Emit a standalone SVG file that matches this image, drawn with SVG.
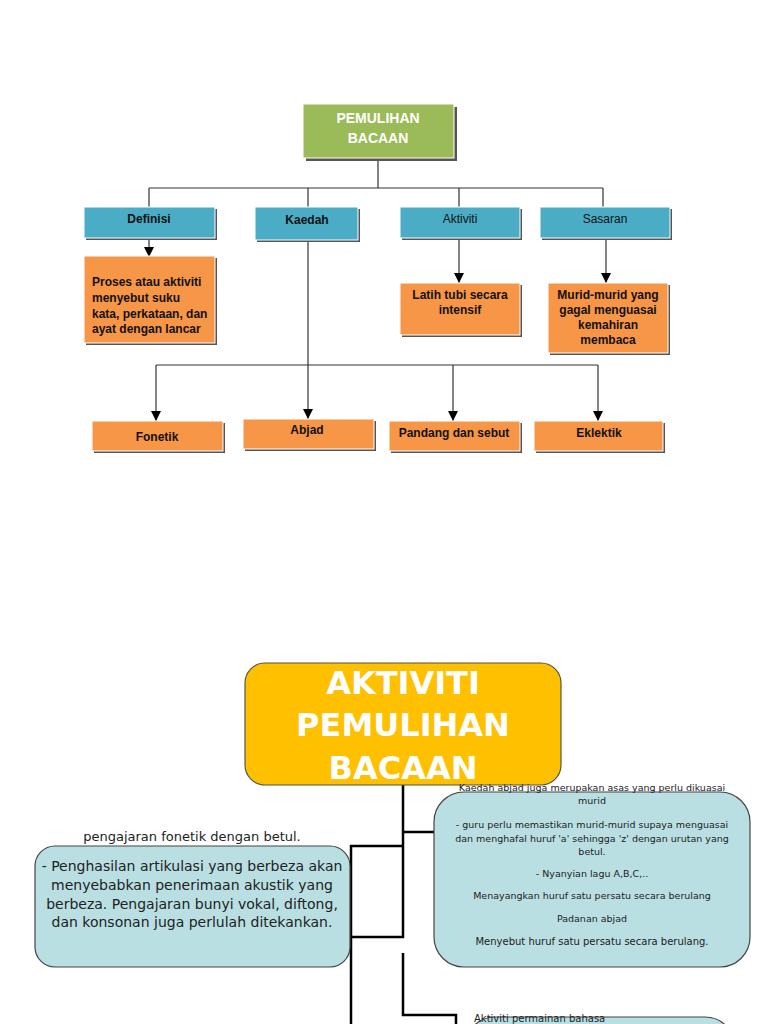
<svg xmlns="http://www.w3.org/2000/svg" width="768" height="1024" viewBox="0 0 768 1024">
<defs>
<marker id="arr" viewBox="0 0 10 10" refX="10" refY="5" markerWidth="10" markerHeight="10" markerUnits="userSpaceOnUse" orient="auto">
<path d="M0,0 L10,5 L0,10 Z" fill="#000"/>
</marker>
</defs>
<style>
.sh{fill:#555;}
.green{fill:#9bbb59;stroke:#fff;stroke-width:1;}
.blue{fill:#4bacc6;stroke:#fff;stroke-width:1;}
.orange{fill:#f79646;stroke:#fff;stroke-width:1;}
.t{font-family:"Liberation Sans",Arial,sans-serif;font-size:12px;text-anchor:middle;fill:#111;}
.tb{font-weight:bold;}
.tw{fill:#fff;font-size:14px;font-weight:bold;}
.c1{fill:none;stroke:#333;stroke-width:1.2;}
.c2{fill:none;stroke:#000;stroke-width:2.5;}
.aqua{fill:#b9dfe3;stroke:#444;stroke-width:1.2;}
.gold{fill:#ffc000;stroke:#554;stroke-width:1.2;}
.d{font-family:"DejaVu Sans",sans-serif;text-anchor:middle;fill:#222;}
.big{font-family:"DejaVu Sans",sans-serif;font-weight:bold;font-size:32px;text-anchor:middle;fill:#fff;}
.st{text-anchor:start;}
</style>
<rect width="768" height="1024" fill="#fff"/>

<g id="connectors">
<path class="c1" d="M378,158 V188 M149,188 H603 M149,188 V207 M308,188 V207 M459,188 V207 M603,188 V207"/>
<path class="c1" d="M149,238 V257" marker-end="url(#arr)"/>
<path class="c1" d="M459,238 V283" marker-end="url(#arr)"/>
<path class="c1" d="M606,238 V283" marker-end="url(#arr)"/>
<path class="c1" d="M308,240 V419" marker-end="url(#arr)"/>
<path class="c1" d="M156,365 H598"/>
<path class="c1" d="M156,365 V421" marker-end="url(#arr)"/>
<path class="c1" d="M453,365 V421" marker-end="url(#arr)"/>
<path class="c1" d="M598,365 V421" marker-end="url(#arr)"/>
<path class="c2" d="M403,785 V937 H351 M403,832 H434 M403,846 H351 V1024 M403,953 V1015 H456 V1024"/>
</g>

<g id="pemulihan">
<rect class="sh" x="306" y="107" width="151" height="54"/>
<rect class="green" x="303" y="104" width="151" height="54"/>
<text class="t tw" x="378" y="123">PEMULIHAN</text>
<text class="t tw" x="378" y="143">BACAAN</text>
</g>

<g id="definisi">
<rect class="sh" x="86" y="209" width="131" height="31"/>
<rect class="blue" x="84" y="207" width="131" height="31"/>
<text class="t tb" x="149" y="223" font-size="13">Definisi</text>
</g>
<g id="kaedah">
<rect class="sh" x="257" y="209" width="103" height="33"/>
<rect class="blue" x="255" y="207" width="103" height="33"/>
<text class="t tb" x="307" y="224" font-size="13">Kaedah</text>
</g>
<g id="aktiviti">
<rect class="sh" x="402" y="209" width="120" height="31"/>
<rect class="blue" x="400" y="207" width="120" height="31"/>
<text class="t" x="460" y="223" font-size="13">Aktiviti</text>
</g>
<g id="sasaran">
<rect class="sh" x="542" y="209" width="130" height="31"/>
<rect class="blue" x="540" y="207" width="130" height="31"/>
<text class="t" x="605" y="223" font-size="13">Sasaran</text>
</g>

<g id="definisi-text">
<rect class="sh" x="86" y="258" width="131" height="87"/>
<rect class="orange" x="84" y="256" width="131" height="87"/>
<text class="t tb st" x="92" y="286" font-size="11">Proses atau aktiviti</text>
<text class="t tb st" x="92" y="302" font-size="11">menyebut suku</text>
<text class="t tb st" x="92" y="318" font-size="11">kata, perkataan, dan</text>
<text class="t tb st" x="92" y="333" font-size="11">ayat dengan lancar</text>
</g>
<g id="latih">
<rect class="sh" x="402" y="285" width="120" height="52"/>
<rect class="orange" x="400" y="283" width="120" height="52"/>
<text class="t tb" x="460" y="299" font-size="11">Latih tubi secara</text>
<text class="t tb" x="460" y="314" font-size="11">intensif</text>
</g>
<g id="murid">
<rect class="sh" x="550" y="285" width="120" height="70"/>
<rect class="orange" x="548" y="283" width="120" height="70"/>
<text class="t tb" x="608" y="299" font-size="11">Murid-murid yang</text>
<text class="t tb" x="608" y="314" font-size="11">gagal menguasai</text>
<text class="t tb" x="608" y="329" font-size="11">kemahiran</text>
<text class="t tb" x="608" y="344" font-size="11">membaca</text>
</g>

<g id="fonetik">
<rect class="sh" x="94" y="423" width="131" height="30"/>
<rect class="orange" x="92" y="421" width="131" height="30"/>
<text class="t tb" x="157" y="441" font-size="11">Fonetik</text>
</g>
<g id="abjad">
<rect class="sh" x="245" y="421" width="131" height="30"/>
<rect class="orange" x="243" y="419" width="131" height="30"/>
<text class="t tb" x="307" y="434" font-size="11">Abjad</text>
</g>
<g id="pandang">
<rect class="sh" x="391" y="423" width="131" height="30"/>
<rect class="orange" x="389" y="421" width="131" height="30"/>
<text class="t tb" x="454" y="437" font-size="11">Pandang dan sebut</text>
</g>
<g id="eklektik">
<rect class="sh" x="536" y="423" width="129" height="30"/>
<rect class="orange" x="534" y="421" width="129" height="30"/>
<text class="t tb" x="599" y="437" font-size="11">Eklektik</text>
</g>

<g id="aktiviti-pemulihan">
<rect class="gold" x="245" y="663" width="316" height="122" rx="20"/>
<text class="big" x="403" y="694">AKTIVITI</text>
<text class="big" x="403" y="736">PEMULIHAN</text>
<text class="big" x="403" y="779">BACAAN</text>
</g>

<g id="fonetik-note">
<text class="d" x="192" y="841" font-size="13">pengajaran fonetik dengan betul.</text>
<rect class="aqua" x="35" y="846" width="315" height="121" rx="20"/>
<text class="d" x="192" y="871" font-size="14">- Penghasilan artikulasi yang berbeza akan</text>
<text class="d" x="192" y="890" font-size="14">menyebabkan penerimaan akustik yang</text>
<text class="d" x="192" y="909" font-size="14">berbeza. Pengajaran bunyi vokal, diftong,</text>
<text class="d" x="192" y="927" font-size="14">dan konsonan juga perlulah ditekankan.</text>
</g>

<g id="abjad-note">
<rect class="aqua" x="434" y="792" width="316" height="175" rx="30"/>
<text class="d" x="592" y="791" font-size="9.5">Kaedah abjad juga merupakan asas yang perlu dikuasai</text>
<text class="d" x="592" y="804" font-size="9.5">murid</text>
<text class="d" x="592" y="828" font-size="9.5">- guru perlu memastikan murid-murid supaya menguasai</text>
<text class="d" x="592" y="842" font-size="9.5">dan menghafal huruf 'a' sehingga 'z' dengan urutan yang</text>
<text class="d" x="592" y="855" font-size="9.5">betul.</text>
<text class="d" x="592" y="877" font-size="9.5">- Nyanyian lagu A,B,C,..</text>
<text class="d" x="592" y="899" font-size="9.5">Menayangkan huruf satu persatu secara berulang</text>
<text class="d" x="592" y="922" font-size="9.5">Padanan abjad</text>
<text class="d" x="592" y="945" font-size="10">Menyebut huruf satu persatu secara berulang.</text>
</g>

<g id="permainan-note">
<rect class="aqua" x="465" y="1017" width="270" height="60" rx="30"/>
<text class="d st" x="474" y="1022" font-size="10">Aktiviti permainan bahasa</text>
</g>
</svg>
